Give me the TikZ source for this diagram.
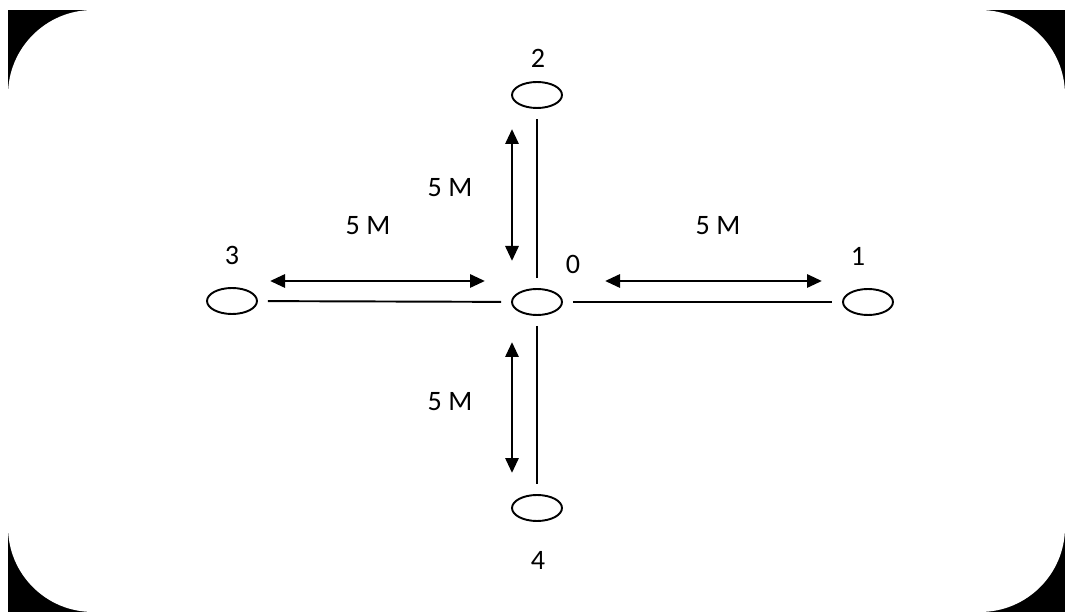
\documentclass[tikz,border=0pt]{standalone}
\usepackage{fontspec}
\setmainfont{Carlito}
\usetikzlibrary{shapes.geometric,arrows.meta}
\begin{document}
\begin{tikzpicture}[x=0.02cm, y=-0.02cm, font=\fontsize{16}{18}\selectfont,
  site/.style={ellipse, draw, line width=1.1pt, minimum width=1cm, minimum height=0.52cm, inner sep=0pt},
  link/.style={line width=1.1pt, shorten <=0.2cm, shorten >=0.2cm},
  dist/.style={line width=1.7pt, {Triangle[length=0.3cm,width=0.26cm]}-{Triangle[length=0.3cm,width=0.26cm]}}]
\useasboundingbox (0,0) rectangle (1065,614);
\fill[black] (8,10) rectangle (1065,612);
\fill[white, rounded corners=1.7cm] (8,10) rectangle (1065,612);
% sites
\node[site] (s0) at (537,302) {};
\node[site] (s1) at (868,302) {};
\node[site] (s2) at (537,95) {};
\node[site] (s3) at (232,301) {};
\node[site] (s4) at (537,508) {};
\node (l0) at (573,264) {0};
\node (l1) at (858,256) {1};
\node (l2) at (538,58) {2};
\node (l3) at (232,255) {3};
\node (l4) at (538,560) {4};
% links
\draw[link] (s0) -- (s1);
\draw[link] (s0) -- (s2);
\draw[link] (s0) -- (s3);
\draw[link] (s0) -- (s4);
% distances
\coordinate (up1) at (512,129);
\coordinate (up2) at (512,261);
\coordinate (dn1) at (512,342);
\coordinate (dn2) at (512,473);
\coordinate (lf1) at (270,281);
\coordinate (lf2) at (485,281);
\coordinate (rt1) at (605,281);
\coordinate (rt2) at (822,281);
\draw[dist] (up1) -- (up2);
\draw[dist] (dn1) -- (dn2);
\draw[dist] (lf1) -- (lf2);
\draw[dist] (rt1) -- (rt2);
\node (d2) at (450,188) {5 M};
\node (d3) at (368,226) {5 M};
\node (d1) at (718,226) {5 M};
\node (d4) at (450,402) {5 M};
\end{tikzpicture}
\end{document}
